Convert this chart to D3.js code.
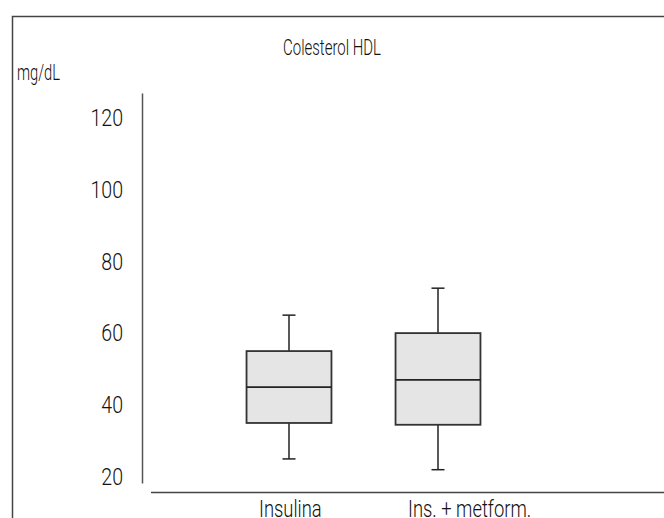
<!DOCTYPE html>
<html><head><meta charset="utf-8">
<script src="https://cdn.jsdelivr.net/npm/d3@7/dist/d3.min.js"></script>
<style>
html,body{margin:0;padding:0;background:#fff;}
svg{display:block;}
text{font-family:Roboto,"Liberation Sans",sans-serif;font-weight:300;fill:#111;}
</style></head>
<body>
<svg id="chart" width="664" height="518"></svg>
<script>
const categories = ["Insulina", "Ins. + metform."];
const whiskerLow  = [25, 22];
const q1          = [35, 34.5];
const median      = [45, 47];
const q3          = [55, 60];
const whiskerHigh = [65, 72.5];
const yTicks = [20, 40, 60, 80, 100, 120];
const title = "Colesterol HDL";
const yUnit = "mg/dL";

const svg = d3.select("#chart");
const W = 664, H = 518;

// frame (top and left)
svg.append("path")
  .attr("d", `M12.5,${H} L12.5,16.5 L${W},16.5`)
  .attr("fill", "none").attr("stroke", "#444").attr("stroke-width", 1.5);

const y = d3.scaleLinear().domain([18.3, 126.8]).range([483, 93]);
const x = d3.scaleBand().domain(categories).range([214.5, 512.5]);
const boxW = x.bandwidth() * 0.57;

// y axis
const tickSX = 0.8, tickPad = 19;
const yAxis = d3.axisLeft(y).tickValues(yTicks).tickSize(0).tickPadding(tickPad);
const gy = svg.append("g").attr("transform", "translate(142,0)").call(yAxis);
gy.select(".domain").attr("stroke", "#555").attr("stroke-width", 1.5);
gy.selectAll(".tick text")
  .style("font-size", "24.5px").style("font-family", "Roboto, sans-serif").style("font-weight", 300)
  .attr("fill", "#111")
  .attr("x", -tickPad / tickSX)
  .attr("transform", `scale(${tickSX},1)`);

// x axis
const gx = svg.append("g").attr("transform", "translate(0,492.5)");
gx.append("line").attr("x1", 151).attr("x2", W).attr("y1", 0).attr("y2", 0)
  .attr("stroke", "#444").attr("stroke-width", 1.5);
gx.selectAll("text.cat").data(categories).enter().append("text")
  .attr("class", "cat")
  .attr("transform", d => `translate(${x(d) + x.bandwidth() / 2 - 30},24) scale(0.8,1)`)
  .attr("text-anchor", "start")
  .style("font-size", "23px")
  .text(d => d);

// boxes
const data = categories.map((c, i) => ({c, lo: whiskerLow[i], q1: q1[i], med: median[i], q3: q3[i], hi: whiskerHigh[i]}));
const g = svg.append("g");
data.forEach(d => {
  const cx = x(d.c) + x.bandwidth() / 2;
  const gg = g.append("g");
  gg.append("line").attr("x1", cx).attr("x2", cx).attr("y1", y(d.hi)).attr("y2", y(d.q3))
    .attr("stroke", "#222").attr("stroke-width", 1.5);
  gg.append("line").attr("x1", cx).attr("x2", cx).attr("y1", y(d.q1)).attr("y2", y(d.lo))
    .attr("stroke", "#222").attr("stroke-width", 1.5);
  [d.hi, d.lo].forEach(v => {
    gg.append("line").attr("x1", cx - 6.5).attr("x2", cx + 6.5).attr("y1", y(v)).attr("y2", y(v))
      .attr("stroke", "#222").attr("stroke-width", 1.5);
  });
  gg.append("rect").attr("x", cx - boxW / 2).attr("width", boxW)
    .attr("y", y(d.q3)).attr("height", y(d.q1) - y(d.q3))
    .attr("fill", "#e5e5e5").attr("stroke", "#333").attr("stroke-width", 1.8);
  gg.append("line").attr("x1", cx - boxW / 2).attr("x2", cx + boxW / 2)
    .attr("y1", y(d.med)).attr("y2", y(d.med))
    .attr("stroke", "#222").attr("stroke-width", 1.8);
});

// titles
svg.append("text").attr("transform", "translate(332,55) scale(0.68,1)").attr("text-anchor", "middle")
  .style("font-size", "22px").text(title);
svg.append("text").attr("transform", "translate(17,80) scale(0.67,1)")
  .style("font-size", "22px").text(yUnit);
</script>
</body></html>
